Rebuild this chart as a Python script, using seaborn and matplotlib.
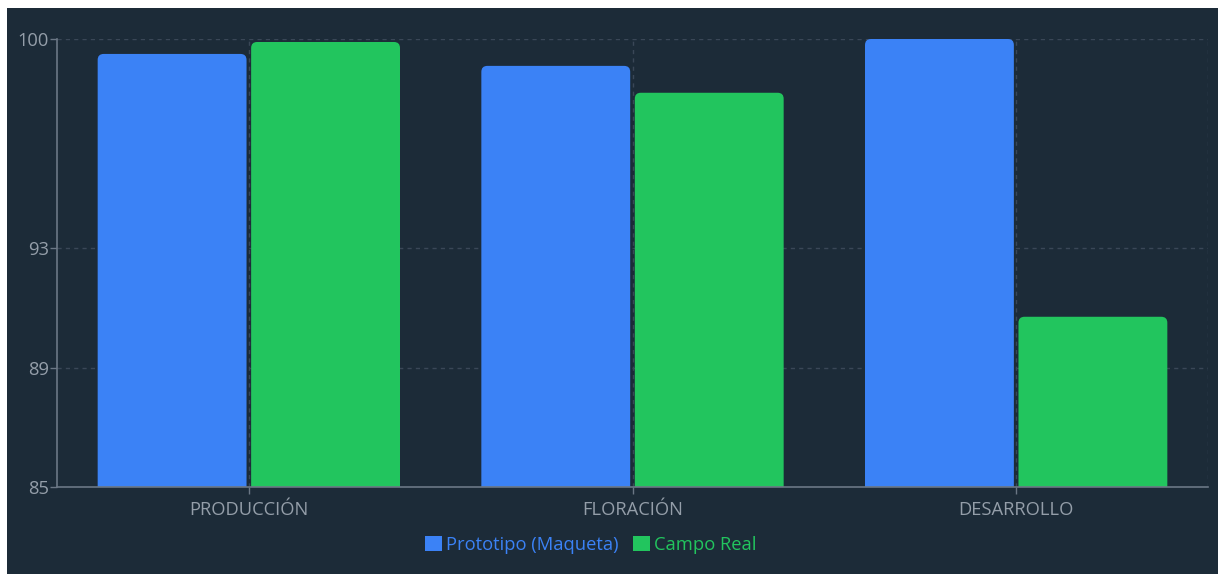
import matplotlib
matplotlib.use("Agg")
import matplotlib.pyplot as plt
from matplotlib.patches import FancyBboxPatch, Rectangle, Patch
import seaborn as sns
import pandas as pd

categories = ["PRODUCCIÓN", "FLORACIÓN", "DESARROLLO"]
series_names = ["Prototipo (Maqueta)", "Campo Real"]
prototipo = [99.5, 99.1, 100.0]
campo = [99.9, 98.2, 90.7]
y_ticks = [85, 89, 93, 100]

BG = "#1c2b38"
BLUE = "#3b82f6"
GREEN = "#22c55e"
TXT = "#949ea9"
AXC = "#6b7785"
GRID = "#3a4757"

df = pd.DataFrame({
    "cat": categories * 2,
    "serie": [series_names[0]] * 3 + [series_names[1]] * 3,
    "val": prototipo + campo,
})

sns.set_theme(style="dark")
plt.rcParams["font.family"] = ["Open Sans", "DejaVu Sans"]

W, H = 1218, 574
fig = plt.figure(figsize=(W / 100, H / 100), dpi=100, facecolor="white")
fig.patches.append(Rectangle((7 / W, 0), 1 - 7 / W, 1 - 8 / H, transform=fig.transFigure,
                             facecolor=BG, edgecolor="none", zorder=-10))

L, R, T, B = 57, 1208, 39, 487
ax = fig.add_axes([L / W, (H - B) / H, (R - L) / W, (B - T) / H])
ax.set_facecolor(BG)

sns.barplot(data=df, x="cat", y="val", hue="serie", palette=[BLUE, GREEN],
            width=0.8, gap=0.03, ax=ax, legend=False, saturation=1)

ax.set_ylim(85, 100)
ax.set_xlim(-0.5, 2.5)

# rounded tops
px_x = (R - L) / 3.0
px_y = (B - T) / 15.0
r = 6
for p in list(ax.patches):
    x, w, h = p.get_x(), p.get_width(), p.get_height()
    fc = p.get_facecolor()
    p.set_visible(False)
    fb = FancyBboxPatch((x, 80), w, h - 80,
                        boxstyle=f"round,pad=0,rounding_size={r / px_x}",
                        mutation_aspect=(r / px_y) / (r / px_x),
                        facecolor=fc, edgecolor="none", zorder=3)
    ax.add_patch(fb)

ax.set_yticks(y_ticks)
ax.set_yticklabels([str(v) for v in y_ticks])
ax.set_xlabel("")
ax.set_ylabel("")

for v in y_ticks[1:]:
    ax.axhline(v, color=GRID, lw=1, ls=(0, (3, 3)), zorder=1)
for xv in [0, 1, 2, 2.5]:
    ax.axvline(xv, color=GRID, lw=1, ls=(0, (3, 3)), zorder=1)

for s in ["top", "right"]:
    ax.spines[s].set_visible(False)
for s in ["left", "bottom"]:
    ax.spines[s].set_visible(True)
    ax.spines[s].set_color(AXC)
    ax.spines[s].set_linewidth(1.2)
    ax.spines[s].set_zorder(5)

ax.tick_params(axis="both", colors=AXC, length=5, width=1, labelsize=13.2,
               labelcolor=TXT, direction="out", left=True, bottom=True)
ax.tick_params(axis="y", pad=1)
ax.tick_params(axis="x", pad=5)

handles = [Patch(facecolor=BLUE, edgecolor="none"), Patch(facecolor=GREEN, edgecolor="none")]
leg = fig.legend(handles, series_names, loc="center", bbox_to_anchor=(591 / W, (H - 545) / H),
                 ncol=2, frameon=False, fontsize=13.2, handlelength=0.9, handleheight=0.9,
                 handletextpad=0.25, columnspacing=0.8)
for t, c in zip(leg.get_texts(), [BLUE, GREEN]):
    t.set_color(c)

fig.savefig("out.png", dpi=100, facecolor="white")
